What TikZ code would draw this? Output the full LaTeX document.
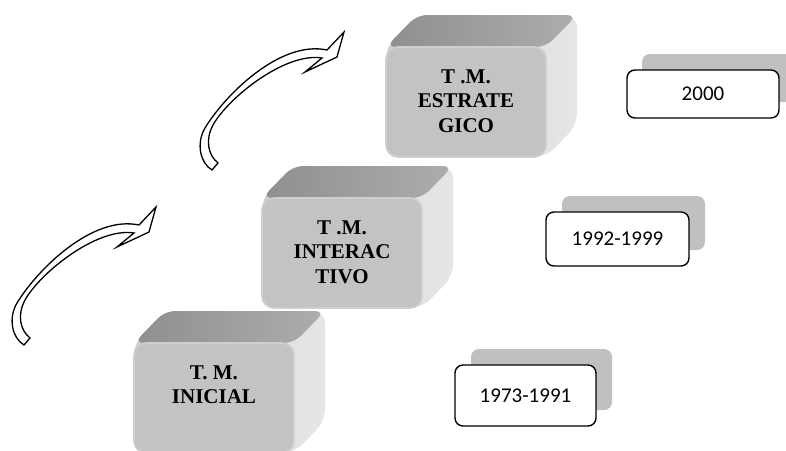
\documentclass[tikz,border=0pt]{standalone}
\usepackage{fontspec}
\setmainfont{Liberation Serif}
\newfontfamily\datefont{Carlito}

\definecolor{frontgray}{HTML}{C3C3C3}
\definecolor{rimgray}{HTML}{CFCFCF}
\definecolor{topdark}{HTML}{8F8F8F}
\definecolor{toplight}{HTML}{ADADAD}
\definecolor{sidedark}{HTML}{CFCFCF}
\definecolor{sidelight}{HTML}{E6E6E6}
\definecolor{shadowgray}{HTML}{C0C0C0}

\tikzset{
  frontface/.style={fill=frontgray, draw=rimgray, line width=1.6pt,
    rounded corners=12pt, inner sep=0pt, minimum width=160pt, minimum height=110pt},
  boxlabel/.style={font=\fontsize{21}{24.5}\selectfont\bfseries, align=center,
    inner sep=0pt, anchor=north},
  datebox/.style={draw=black, line width=1.4pt, fill=white, rounded corners=8pt,
    font=\datefont\fontsize{21}{25}\selectfont, inner sep=0pt},
  dateshadow/.style={fill=shadowgray, rounded corners=8pt, inner sep=0pt},
  arrowline/.style={draw=black, fill=white, line width=1.3pt, line join=miter},
  bentarrow/.pic={
    \path[arrowline]
      (212,170) .. controls (200,163) and (196,143) .. (205,128)
      .. controls (225,95) and (280,40) .. (327,50)
      -- (344,32) -- (337,57) -- (305,72) -- (322,58)
      .. controls (285,52) and (228,98) .. (213,125)
      .. controls (205,140) and (208,155) .. (218,163) -- cycle;
  }
}

% extruded block: side and top faces, front face node, label
\newcommand{\solidblock}[4]{%
  \shade[left color=sidedark, right color=sidelight, rounded corners=12pt]
    (#2-80,#3+55) -- (#2-80,#3-55) -- (#2-49,#3-87) -- (#2+111,#3-87)
    -- (#2+111,#3+23) -- (#2+80,#3+55) -- cycle;
  \shade[left color=topdark, right color=toplight, rounded corners=10pt]
    (#2-80,#3-55) -- (#2-49,#3-87) -- (#2+111,#3-87) -- (#2+80,#3-55) -- cycle;
  \node[frontface] (#1) at (#2,#3) {};
  \node[boxlabel] (#1-text) at ([yshift=-23pt]#1.north) {#4};
}

\begin{document}
\begin{tikzpicture}[x=1pt, y=-1pt]
  \path[use as bounding box, clip] (0,0) rectangle (786,450);

  % curved arrows between the stages
  \pic (upperarrow) at (0,0) {bentarrow};
  \pic (lowerarrow) at (-188,175) {bentarrow};

  % the three stages
  \solidblock{estrategico}{466}{102}{T .M.\\ESTRATE\\GICO}
  \solidblock{interactivo}{342}{253}{T .M.\\INTERAC\\TIVO}
  \solidblock{inicial}{214}{398}{T. M.\\INICIAL}

  % periods
  \node[dateshadow, minimum width=152pt, minimum height=48pt] (s2000) at (718,78) {};
  \node[datebox, minimum width=152pt, minimum height=48pt] (d2000) at (703,94) {2000};

  \node[dateshadow, minimum width=143pt, minimum height=54pt] (s1992) at (633.5,223) {};
  \node[datebox, minimum width=143pt, minimum height=54pt] (d1992) at (617.5,239) {1992-1999};

  \node[dateshadow, minimum width=141pt, minimum height=61pt] (s1973) at (541.5,379.5) {};
  \node[datebox, minimum width=141pt, minimum height=61pt] (d1973) at (525.5,395.5) {1973-1991};
\end{tikzpicture}
\end{document}
